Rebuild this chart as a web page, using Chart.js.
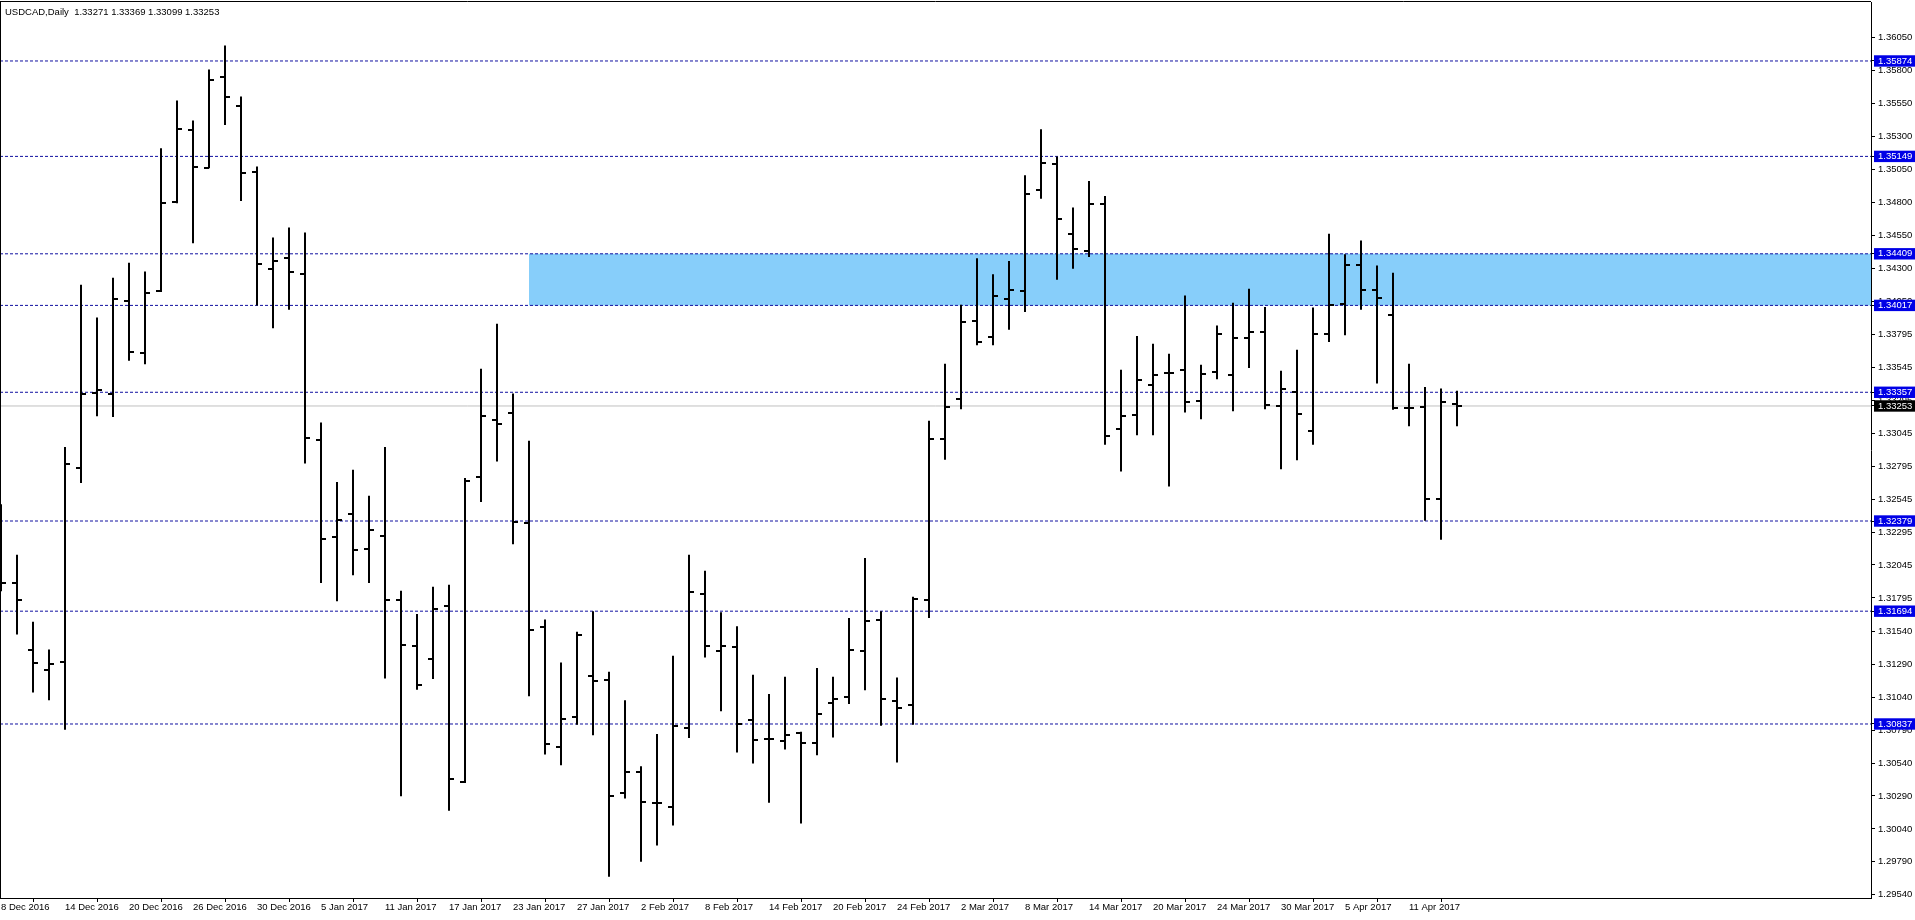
<!DOCTYPE html>
<html><head><meta charset="utf-8">
<script src="https://cdn.jsdelivr.net/npm/chart.js@4.4.0/dist/chart.umd.min.js"></script>
<style>
html,body{margin:0;padding:0;background:#fff;overflow:hidden}
#wrap{position:relative;width:1915px;height:920px}
#hdr{position:absolute;left:5px;top:6px;font:9.5px "Liberation Sans",Arial,sans-serif;color:#000;white-space:pre;line-height:11px}
</style></head><body>
<div id="wrap"><canvas id="c" width="1915" height="920"></canvas><div id="hdr">USDCAD,Daily  1.33271 1.33369 1.33099 1.33253</div></div>
<script>
const dates=["8 Dec 2016","9 Dec 2016","12 Dec 2016","13 Dec 2016","14 Dec 2016","15 Dec 2016","16 Dec 2016","19 Dec 2016","20 Dec 2016","21 Dec 2016","22 Dec 2016","23 Dec 2016","26 Dec 2016","27 Dec 2016","28 Dec 2016","29 Dec 2016","30 Dec 2016",
"2 Jan 2017","3 Jan 2017","4 Jan 2017","5 Jan 2017","6 Jan 2017","9 Jan 2017","10 Jan 2017","11 Jan 2017","12 Jan 2017","13 Jan 2017","16 Jan 2017","17 Jan 2017","18 Jan 2017","19 Jan 2017","20 Jan 2017","23 Jan 2017","24 Jan 2017","25 Jan 2017","26 Jan 2017","27 Jan 2017","30 Jan 2017","31 Jan 2017",
"1 Feb 2017","2 Feb 2017","3 Feb 2017","6 Feb 2017","7 Feb 2017","8 Feb 2017","9 Feb 2017","10 Feb 2017","13 Feb 2017","14 Feb 2017","15 Feb 2017","16 Feb 2017","17 Feb 2017","20 Feb 2017","21 Feb 2017","22 Feb 2017","23 Feb 2017","24 Feb 2017","27 Feb 2017","28 Feb 2017",
"1 Mar 2017","2 Mar 2017","3 Mar 2017","6 Mar 2017","7 Mar 2017","8 Mar 2017","9 Mar 2017","10 Mar 2017","13 Mar 2017","14 Mar 2017","15 Mar 2017","16 Mar 2017","17 Mar 2017","20 Mar 2017","21 Mar 2017","22 Mar 2017","23 Mar 2017","24 Mar 2017","27 Mar 2017","28 Mar 2017","29 Mar 2017","30 Mar 2017","31 Mar 2017",
"3 Apr 2017","4 Apr 2017","5 Apr 2017","6 Apr 2017","7 Apr 2017","10 Apr 2017","11 Apr 2017","12 Apr 2017","13 Apr 2017","14 Apr 2017"];

const opens=[1.32300,1.31908,1.31398,1.31250,1.31305,1.32781,1.33351,1.33342,1.34051,1.33655,1.34127,1.34802,1.35350,1.35064,1.35751,1.35532,1.35034,
1.34292,1.34380,1.34258,1.32992,1.32254,1.32435,1.32165,1.32262,1.31777,1.31427,1.31334,1.31735,1.30394,1.32714,1.33148,1.33199,1.32364,1.31575,1.30664,1.30891,1.31204,1.31170,
1.30313,1.30470,1.30238,1.30204,1.30807,1.31828,1.31393,1.31423,1.30870,1.30723,1.30710,1.30769,1.30689,1.30993,1.31039,1.31393,1.31625,1.31014,1.30984,1.31777,
1.33001,1.33304,1.33899,1.33777,1.34064,1.34127,1.34891,1.35093,1.34557,1.34431,1.34785,1.33077,1.33186,1.33414,1.33503,1.33524,1.33292,1.33511,1.33486,1.33768,1.33815,1.33250,1.33359,
1.33064,1.33798,1.34030,1.34321,1.34131,1.33941,1.33241,1.33245,1.32549,1.33271];
const highs=[1.32507,1.32123,1.31613,1.31402,1.32942,1.34173,1.33925,1.34228,1.34342,1.34275,1.35211,1.35574,1.35422,1.35810,1.35992,1.35604,1.35072,
1.34532,1.34608,1.34570,1.33127,1.32676,1.32769,1.32570,1.32942,1.31849,1.31672,1.31879,1.31895,1.32705,1.33536,1.33878,1.33347,1.32988,1.31630,1.31305,1.31537,1.31693,1.31233,
1.31018,1.30516,1.30761,1.31355,1.32123,1.32001,1.31685,1.31579,1.31212,1.31064,1.31195,1.30778,1.31263,1.31195,1.31642,1.32098,1.31693,1.31191,1.31803,1.33140,
1.33574,1.34022,1.34376,1.34254,1.34355,1.35005,1.35355,1.35148,1.34760,1.34962,1.34848,1.33528,1.33785,1.33726,1.33650,1.34093,1.33566,1.33865,1.34038,1.34144,1.34005,1.33520,1.33680,
1.34001,1.34562,1.34406,1.34511,1.34321,1.34266,1.33574,1.33397,1.33385,1.33369];
const lows=[1.31845,1.31516,1.31077,1.31018,1.30794,1.32667,1.33174,1.33169,1.33596,1.33570,1.34119,1.34794,1.34490,1.35059,1.35388,1.34810,1.34017,
1.33844,1.33984,1.32815,1.31908,1.31769,1.31967,1.31908,1.31183,1.30288,1.31098,1.31178,1.30178,1.30389,1.32524,1.32832,1.32203,1.31048,1.30605,1.30524,1.30832,1.30752,1.29676,
1.30271,1.29790,1.29913,1.30065,1.30731,1.31343,1.30934,1.30621,1.30537,1.30238,1.30643,1.30081,1.30600,1.30735,1.30988,1.31094,1.30824,1.30545,1.30832,1.31642,
1.32845,1.33229,1.33714,1.33714,1.33832,1.33967,1.34827,1.34211,1.34296,1.34384,1.32959,1.32756,1.33030,1.33030,1.32642,1.33203,1.33153,1.33456,1.33212,1.33541,1.33229,1.32773,1.32840,
1.32959,1.33739,1.33790,1.33984,1.33423,1.33224,1.33098,1.32381,1.32237,1.33099];
const closes=[1.31908,1.31777,1.31301,1.31292,1.32811,1.33342,1.33376,1.34064,1.33663,1.34110,1.34798,1.35359,1.35068,1.35730,1.35599,1.35021,1.34334,
1.34355,1.34271,1.33009,1.32241,1.32385,1.32157,1.32309,1.31777,1.31440,1.31136,1.31714,1.30419,1.32680,1.33174,1.33119,1.32372,1.31554,1.30685,1.30875,1.31512,1.31166,1.30288,
1.30470,1.30246,1.30238,1.30820,1.31841,1.31431,1.31431,1.30837,1.30714,1.30723,1.30756,1.30689,1.30913,1.31026,1.31402,1.31617,1.31026,1.30959,1.31790,1.33001,
1.33245,1.33891,1.33739,1.34085,1.34136,1.34861,1.35097,1.34671,1.34448,1.34785,1.33022,1.33174,1.33448,1.33486,1.33507,1.33283,1.33494,1.33798,1.33768,1.33815,1.33262,1.33385,1.33195,
1.33798,1.34017,1.34321,1.34136,1.34076,1.33241,1.33241,1.32549,1.33283,1.33253];

const levels=[1.35874,1.35149,1.34409,1.34017,1.33357,1.32379,1.31694,1.30837];
const zoneTop=1.34409, zoneBottom=1.34017, zoneStartIndex=33;
const currentPrice=1.33253;
const yTickValues=[1.36050,1.35800,1.35550,1.35300,1.35050,1.34800,1.34550,1.34300,1.34050,1.33795,1.33545,1.33295,1.33045,1.32795,1.32545,1.32295,1.32045,1.31795,1.31540,1.31290,1.31040,1.30790,1.30540,1.30290,1.30040,1.29790,1.29540];
const xTickIndices=[0,4,8,12,16,20,24,28,32,36,40,44,48,52,56,60,64,68,72,76,80,84,88];

const X_MIN=-0.0625, X_MAX=116.875, Y_MIN=1.29515, Y_MAX=1.36322;
const LEVEL_COLOR='#0000E6', LINE_COLOR='#1010A0';

function tickImg(side){
  const c=document.createElement('canvas'); c.width=10; c.height=2;
  const g=c.getContext('2d'); g.fillStyle='#000';
  if(side==='left') g.fillRect(0,0,5,2); else g.fillRect(5,0,5,2);
  return c;
}
const openImg=tickImg('left'), closeImg=tickImg('right');

const isLevel=v=>levels.some(l=>Math.abs(l-v)<1e-7);
const isCur=v=>Math.abs(v-currentPrice)<1e-7;

const datasets=[];
datasets.push({type:'line',data:[{x:zoneStartIndex,y:zoneTop},{x:X_MAX,y:zoneTop}],borderColor:'rgba(0,0,0,0)',borderWidth:1,pointRadius:0,pointHoverRadius:0,fill:false,order:30});
datasets.push({type:'line',data:[{x:zoneStartIndex,y:zoneBottom},{x:X_MAX,y:zoneBottom}],borderColor:'rgba(0,0,0,0)',borderWidth:1,pointRadius:0,pointHoverRadius:0,fill:'-1',backgroundColor:'#87CEFA',order:29});
datasets.push({type:'line',data:[{x:X_MIN,y:currentPrice},{x:X_MAX,y:currentPrice}],borderColor:'#C0C0C0',borderWidth:1,pointRadius:0,pointHoverRadius:0,fill:false,order:21});
levels.forEach(lv=>datasets.push({type:'line',data:[{x:X_MIN,y:lv},{x:X_MAX,y:lv}],borderColor:LINE_COLOR,borderWidth:1,borderDash:[3,2],pointRadius:0,pointHoverRadius:0,fill:false,order:20}));
datasets.push({type:'bar',data:highs.map((h,i)=>({x:i,y:[lows[i],h]})),backgroundColor:'#000',borderWidth:0,barThickness:2,inflateAmount:0,grouped:false,order:3});
datasets.push({type:'scatter',data:opens.map((o,i)=>({x:i,y:o})),pointStyle:openImg,pointRadius:1,pointHoverRadius:1,order:2});
datasets.push({type:'scatter',data:closes.map((c,i)=>({x:i,y:c})),pointStyle:closeImg,pointRadius:1,pointHoverRadius:1,order:1});

const framePlugin={id:'frame',afterDraw(chart){
  const {ctx,chartArea:a}=chart; ctx.save(); ctx.strokeStyle='#000'; ctx.lineWidth=1;
  ctx.beginPath(); ctx.moveTo(a.left,a.top-0.5); ctx.lineTo(a.right,a.top-0.5);
  ctx.moveTo(a.left+0.5,a.top); ctx.lineTo(a.left+0.5,a.bottom); ctx.stroke(); ctx.restore();
}};

const font={family:'"Liberation Sans", Arial, sans-serif',size:9.5};
new Chart(document.getElementById('c'),{
  type:'bar',
  data:{datasets},
  plugins:[framePlugin],
  options:{
    responsive:false,animation:false,events:[],devicePixelRatio:1,
    layout:{autoPadding:false,padding:{top:2,left:0,right:0,bottom:0}},
    plugins:{legend:{display:false},tooltip:{enabled:false}},
    scales:{
      x:{type:'linear',min:X_MIN,max:X_MAX,offset:false,
        afterBuildTicks:s=>{s.ticks=xTickIndices.map(v=>({value:v}));},
        afterFit:s=>{s.height=22;s.paddingLeft=0;s.paddingRight=0;},
        grid:{drawOnChartArea:false,drawTicks:true,tickLength:4,color:'#000'},
        border:{display:true,color:'#000',width:1},
        ticks:{autoSkip:false,maxRotation:0,minRotation:0,align:'start',padding:0,color:'#000',font,
          callback:v=>dates[v]}
      },
      y:{type:'linear',position:'right',min:Y_MIN,max:Y_MAX,
        afterBuildTicks:s=>{s.ticks=[...yTickValues,...levels,currentPrice].map(v=>({value:v}));},
        afterFit:s=>{s.width=44;s.paddingTop=0;s.paddingBottom=0;},
        grid:{drawOnChartArea:false,drawTicks:true,tickLength:4,color:'#000'},
        border:{display:true,color:'#000',width:1},
        ticks:{autoSkip:false,padding:3,font,
          color:c=>(isLevel(c.tick.value)||isCur(c.tick.value))?'#fff':'#000',
          showLabelBackdrop:true,
          backdropColor:c=>isCur(c.tick.value)?'#000':(isLevel(c.tick.value)?LEVEL_COLOR:'rgba(0,0,0,0)'),
          backdropPadding:{left:4,right:8,top:0,bottom:0},
          callback:v=>Number(v).toFixed(5)}
      }
    }
  }
});
</script>
</body></html>
